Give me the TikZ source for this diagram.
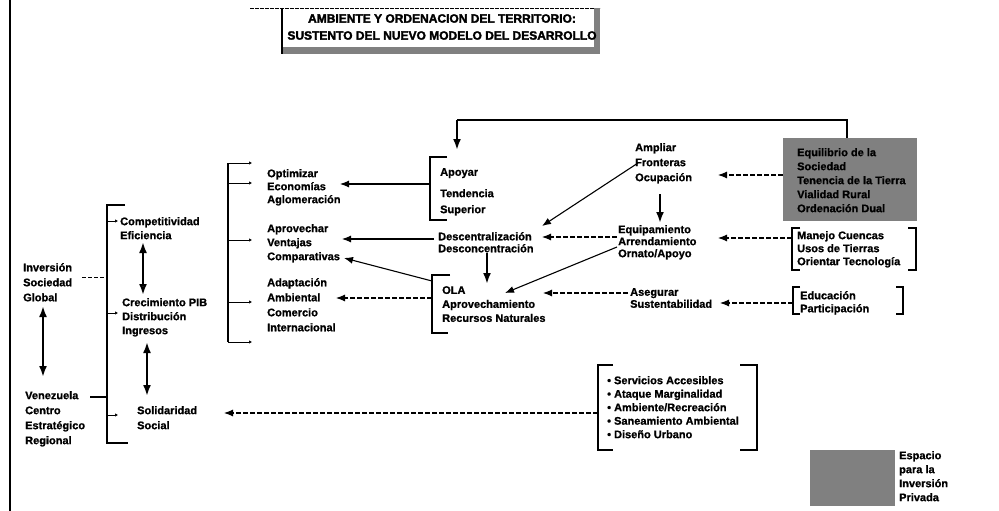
\documentclass[tikz,border=0pt]{standalone}
\usepackage{fontspec}
\setmainfont{Liberation Sans}[BoldFeatures={FakeBold=1}]
\newfontfamily\titlefont{Liberation Sans}[BoldFeatures={FakeBold=2.2}]
\usetikzlibrary{arrows.meta,calc}
\begin{document}
\begin{tikzpicture}[x=1pt,y=-1pt,
  txt/.style={font=\bfseries\fontsize{11}{#1}\selectfont, align=left, inner sep=0pt, anchor=north west},
  txt/.default=14,
  ln/.style={line width=1.1pt},
  dln/.style={line width=1pt, dash pattern=on 4pt off 2pt},
  brk/.style={line width=1.7pt},
  arr/.style={line width=1.1pt, -{Latex[length=9pt,width=7pt]}},
  darr/.style={line width=1.1pt, dash pattern=on 5pt off 2pt, -{Latex[length=9pt,width=7pt]}},
  bigarr/.style={line width=2.2pt, -{Latex[length=11pt,width=8pt]}},
  dbl/.style={line width=2.2pt, {Latex[length=11pt,width=8pt]}-{Latex[length=11pt,width=8pt]}},
  tick/.style={line width=1pt, -{Latex[length=3pt,width=3.5pt]}},
  shade/.style={fill=black!50},
]
\useasboundingbox (0,0) rectangle (999,511);
\fill[white] (0,0) rectangle (999,511);

% left border
\draw[line width=2.5pt] (10,0) -- (10,511);

% title
\draw[line width=0.7pt, dash pattern=on 4pt off 1pt] (250,8) -- (600,8);
\fill[shade] (282,47) rectangle (600,54);
\fill[shade] (594,8) rectangle (600,54);
\draw[line width=2.6pt] (282,8) -- (282,54);
\node[font=\titlefont\bfseries\fontsize{12}{17}\selectfont, align=center, inner sep=0pt] (title) at (442,27) {AMBIENTE Y ORDENACION DEL TERRITORIO:\\SUSTENTO DEL NUEVO MODELO DEL DESARROLLO};

% ---------- left column ----------
\node[txt=15] (inv) at (23,263) {Inversión\\Sociedad\\Global};
\node[txt=15] (ven) at (25,391) {Venezuela\\Centro\\Estratégico\\Regional};
\coordinate (invS) at (43,306);
\coordinate (venN) at (43,377);
\draw[dbl] (invS) -- (venN);

\coordinate (bT) at (107,205);
\coordinate (bB) at (107,443);
\draw[brk] ($(bT)+(18,0)$) -- (bT) -- (bB) -- ($(bB)+(21,0)$);
\coordinate (invE) at (82,277);
\coordinate (invB) at (107,277);
\draw[dln] (invE) -- (invB);
\coordinate (venE) at (90,397);
\coordinate (venB) at (107,397);
\draw[ln] (venE) -- (venB);

\node[txt=14] (comp) at (120,217) {Competitividad\\Eficiencia};
\node[txt=14] (crec) at (122,298) {Crecimiento PIB\\Distribución\\Ingresos};
\node[txt=15] (sol) at (137,406) {Solidaridad\\Social};
\coordinate (t1a) at (107,221); \coordinate (t1b) at (118,221);
\coordinate (t2a) at (107,313); \coordinate (t2b) at (118,313);
\coordinate (t3a) at (107,415); \coordinate (t3b) at (118,415);
\draw[tick] (t1a) -- (t1b);
\draw[tick] (t2a) -- (t2b);
\draw[tick] (t3a) -- (t3b);

\coordinate (compS) at (143,242);
\coordinate (crecN) at (143,295);
\draw[line width=2.2pt, {Latex[length=11pt,width=8pt]}-{Latex[open,length=11pt,width=8pt]}] (compS) -- (crecN);
\coordinate (crecS) at (147,342);
\coordinate (solN) at (147,396);
\draw[dbl] (crecS) -- (solN);

% ---------- middle bracket ----------
\coordinate (mT) at (228,163);
\coordinate (mB) at (228,342);
\draw[brk] (mT) -- (mB);
\foreach \yy/\nm in {163/ma,183/mb,240/mc,302/md,342/me}{
  \coordinate (\nm1) at (228,\yy); \coordinate (\nm2) at (252,\yy);
  \draw[tick] (\nm1) -- (\nm2);
}
\node[txt=13] (opt) at (267,169) {Optimizar\\Economías\\Aglomeración};
\node[txt=14] (apr) at (267,224) {Aprovechar\\Ventajas\\Comparativas};
\node[txt=15] (ada) at (267,278) {Adaptación\\Ambiental\\Comercio\\Internacional};

% ---------- Apoyar ----------
\node[txt] (apo) at (440,168) {Apoyar};
\node[txt=16] (ten) at (440,189) {Tendencia\\Superior};
\draw[brk] (447,157) -- (430,157) -- (430,220) -- (447,220);
\coordinate (boxTop) at (847,138);
\coordinate (loopR) at (847,120);
\coordinate (loopL) at (457,120);
\coordinate (apoN) at (457,150);
\draw[ln] (boxTop) -- (loopR) -- (loopL);
\draw[bigarr] (loopL) -- (apoN);

\coordinate (apoW) at (430,184);
\coordinate (optE) at (340,184);
\draw[arr] (apoW) -- (optE);

% ---------- Descentralizacion / OLA ----------
\node[txt=12] (des) at (438,232) {Descentralización\\Desconcentración};
\coordinate (desS) at (487,253);
\coordinate (olaN) at (487,284);
\draw[bigarr] (desS) -- (olaN);
\coordinate (desW) at (434,239);
\coordinate (aprE) at (342,239);
\draw[arr] (desW) -- (aprE);

\node[txt=14] (ola) at (442,286) {OLA\\Aprovechamiento\\Recursos Naturales};
\draw[brk] (450,275) -- (432,275) -- (432,333) -- (448,333);
\coordinate (olaW1) at (432,281);
\coordinate (cmpE) at (344,258);
\draw[arr] (olaW1) -- (cmpE);
\coordinate (olaW2) at (432,298);
\coordinate (adaE) at (336,298);
\draw[darr] (olaW2) -- (adaE);

% ---------- right-centre ----------
\node[txt=15] (amp) at (635,143) {Ampliar\\Fronteras\\Ocupación};
\node[txt=12] (equ) at (618,225) {Equipamiento\\Arrendamiento\\Ornato/Apoyo};
\node[txt=12] (ase) at (630,288) {Asegurar\\Sustentabilidad};

\coordinate (boxW) at (783,175);
\coordinate (ampE) at (718,175);
\draw[darr] (boxW) -- (ampE);
\coordinate (ampW) at (638,163);
\coordinate (desNE) at (542,226);
\draw[arr] (ampW) -- (desNE);
\coordinate (ampS) at (660,194);
\coordinate (equN) at (660,223);
\draw[bigarr] (ampS) -- (equN);
\coordinate (manW) at (792,238);
\coordinate (equE) at (718,238);
\draw[darr] (manW) -- (equE);
\coordinate (equW1) at (617,237);
\coordinate (desE) at (542,237);
\draw[darr] (equW1) -- (desE);
\coordinate (equW2) at (617,247);
\coordinate (olaNE) at (505,293);
\draw[arr] (equW2) -- (olaNE);
\coordinate (eduW) at (793,303);
\coordinate (aseE) at (720,303);
\draw[darr] (eduW) -- (aseE);
\coordinate (aseW) at (628,293);
\coordinate (olaE) at (543,293);
\draw[darr] (aseW) -- (olaE);

% ---------- right boxes ----------
\fill[shade] (783,138) rectangle (917,221);
\node[txt=14] (boxt) at (797,148) {Equilibrio de la\\Sociedad\\Tenencia de la Tierra\\Vialidad Rural\\Ordenación Dual};

\draw[brk] (800,228) -- (792,228) -- (792,270) -- (800,270);
\draw[brk] (908,228) -- (916,228) -- (916,270) -- (908,270);
\node[txt=13] (man) at (797,231) {Manejo Cuencas\\Usos de Tierras\\Orientar Tecnología};

\draw[brk] (800,287) -- (793,287) -- (793,314) -- (800,314);
\draw[brk] (896,287) -- (903,287) -- (903,314) -- (896,314);
\node[txt=13] (edu) at (800,291) {Educación\\Participación};

% ---------- services ----------
\draw[brk] (613,365) -- (598,365) -- (598,450) -- (613,450);
\draw[brk] (740,365) -- (757,365) -- (757,450) -- (740,450);
\node[txt=13.5] (serv) at (607,376) {• Servicios Accesibles\\• Ataque Marginalidad\\• Ambiente/Recreación\\• Saneamiento Ambiental\\• Diseño Urbano};
\coordinate (servW) at (598,413);
\coordinate (solE) at (224,413);
\draw[darr] (servW) -- (solE);

% ---------- legend ----------
\fill[shade] (810,450) rectangle (895,506);
\node[txt=14] (leg) at (899,451) {Espacio\\para la\\Inversión\\Privada};
\end{tikzpicture}
\end{document}
